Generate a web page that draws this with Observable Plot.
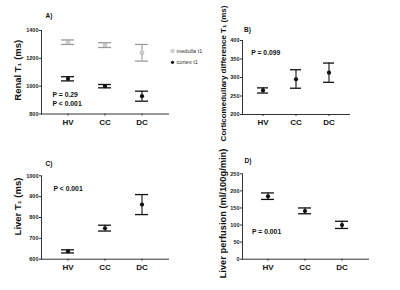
<!DOCTYPE html>
<html>
<head>
<meta charset="utf-8">
<script src="https://cdn.jsdelivr.net/npm/d3@7"></script>
<script src="https://cdn.jsdelivr.net/npm/@observablehq/plot@0.6"></script>
<style>
  html, body { margin: 0; padding: 0; background: #fff; }
  #fig { position: relative; width: 400px; height: 290px; background: #fff; overflow: hidden; }
  #fig svg { position: absolute; }
</style>
</head>
<body>
<div id="fig"></div>
<script>
// ---- data ----
const groups = ["HV", "CC", "DC"];

const medullaMean = [1316, 1295, 1240];
const medullaLow  = [1300, 1278, 1180];
const medullaHigh = [1332, 1312, 1300];

const cortexMean = [1053, 1000, 928];
const cortexLow  = [1038, 988, 892];
const cortexHigh = [1068, 1012, 964];

const cmdMean = [265, 295, 313];
const cmdLow  = [258, 271, 287];
const cmdHigh = [272, 321, 339];

const liverT1Mean = [637, 748, 862];
const liverT1Low  = [630, 735, 814];
const liverT1High = [645, 763, 910];

const perfMean = [184, 141, 100];
const perfLow  = [175, 133, 90];
const perfHigh = [194, 150, 111];

const ticksA = [800, 1000, 1200, 1400];
const ticksB = [200, 250, 300, 350, 400];
const ticksC = [600, 700, 800, 900, 1000];
const ticksD = [0, 50, 100, 150, 200, 250];

const legendLabels = ["medulla t1", "cortex t1"];

const GREY = "#9b9b9b";
const BLACK = "#111";
const FONT = "'Liberation Sans', Arial, Helvetica, sans-serif";

const fig = document.getElementById("fig");

function makePanel(cfg) {
  const marks = [];
  marks.push(Plot.frame({anchor: "left", stroke: "#333", strokeWidth: 1}));
  marks.push(Plot.frame({anchor: "bottom", stroke: "#333", strokeWidth: 1}));
  marks.push(Plot.axisY({ticks: cfg.ticks, tickFormat: d => String(d), tickSize: 2, tickPadding: 1, fontSize: 5.5, fontWeight: "bold", label: null, fill: "#222", stroke: "#333"}));
  marks.push(Plot.axisX({tickSize: 2, tickPadding: 3, fontSize: 8, fontWeight: "bold", label: null, fill: "#111", stroke: "#333"}));
  for (const s of cfg.series) {
    const rows = groups.map((g, i) => ({g, m: s.mean[i], lo: s.low[i], hi: s.high[i]}));
    marks.push(Plot.ruleX(rows, {x: "g", y1: "lo", y2: "hi", stroke: s.color, strokeWidth: 1.1}));
    marks.push(Plot.tickY(rows, {x: "g", y: "lo", stroke: s.color, strokeWidth: 1.3}));
    marks.push(Plot.tickY(rows, {x: "g", y: "hi", stroke: s.color, strokeWidth: 1.3}));
    if (s.marker === "circle-x") {
      marks.push(Plot.dot(rows, {x: "g", y: "m", r: 1.9, stroke: s.color, fill: "white", strokeWidth: 0.7}));
      marks.push(Plot.dot(rows, {x: "g", y: "m", r: 1.0, symbol: "times", stroke: s.color, strokeWidth: 0.6}));
    } else {
      marks.push(Plot.dot(rows, {x: "g", y: "m", r: 2.1, fill: s.color}));
    }
  }
  // panel letter
  marks.push(Plot.text([cfg.letter], {frameAnchor: "top-left", dx: cfg.letterDx, dy: cfg.letterDy, textAnchor: "start", lineAnchor: "middle", fontSize: 6.5, fontWeight: "bold", fill: "#111"}));
  // y title
  marks.push(Plot.text([cfg.ylabel], {frameAnchor: "left", dx: cfg.ylabelDx, dy: cfg.ylabelDy, rotate: -90, textAnchor: "middle", lineAnchor: "middle", fontSize: cfg.ylabelSize, fontWeight: "bold", fill: "#111"}));
  // p-value annotations
  for (const p of cfg.pvals) {
    marks.push(Plot.text([p.text], {frameAnchor: p.anchor, dx: p.dx, dy: p.dy, textAnchor: "start", lineAnchor: "middle", fontSize: 6.8, fontWeight: "bold", fill: "#111"}));
  }
  if (cfg.extra) marks.push(...cfg.extra);

  const svg = Plot.plot({
    width: 200,
    height: 145,
    marginLeft: cfg.ml, marginRight: cfg.mr, marginTop: cfg.mt, marginBottom: cfg.mb,
    style: {fontFamily: FONT, background: "transparent", overflow: "visible"},
    x: {type: "band", domain: groups, paddingInner: cfg.pi, paddingOuter: cfg.po, align: 0.5},
    y: {domain: cfg.domain},
    marks
  });
  svg.style.left = cfg.left + "px";
  svg.style.top = cfg.top + "px";
  fig.appendChild(svg);
}

// legend for panel A (drawn in panel A's frame coordinates)
const legendMarks = [
  Plot.dot([legendLabels[0]], {frameAnchor: "top-right", dx: 4, dy: 20.5, r: 1.7, stroke: GREY, fill: "white", strokeWidth: 0.6}),
  Plot.dot([legendLabels[0]], {frameAnchor: "top-right", dx: 4, dy: 20.5, r: 0.9, symbol: "times", stroke: GREY, strokeWidth: 0.5}),
  Plot.dot([legendLabels[1]], {frameAnchor: "top-right", dx: 4, dy: 31.8, r: 1.6, fill: BLACK}),
  Plot.text([legendLabels[0]], {frameAnchor: "top-right", dx: 8, dy: 20.5, textAnchor: "start", lineAnchor: "middle", fontSize: 5.6, fill: "#333"}),
  Plot.text([legendLabels[1]], {frameAnchor: "top-right", dx: 8, dy: 31.8, textAnchor: "start", lineAnchor: "middle", fontSize: 5.6, fill: "#333"})
];

makePanel({
  left: 0, top: 0, ml: 41, mr: 32, mt: 30, mb: 31.5,
  pi: 0.653, po: 0.52,
  domain: [800, 1400], ticks: ticksA,
  letter: "A)", letterDx: 4, letterDy: -15,
  ylabel: "Renal T\u2081 (ms)", ylabelDx: -24, ylabelDy: -2, ylabelSize: 9.5,
  series: [
    {mean: medullaMean, low: medullaLow, high: medullaHigh, color: GREY, marker: "circle-x"},
    {mean: cortexMean, low: cortexLow, high: cortexHigh, color: BLACK, marker: "dot"}
  ],
  pvals: [
    {text: "P = 0.29", anchor: "bottom-left", dx: 11, dy: -19.2},
    {text: "P < 0.001", anchor: "bottom-left", dx: 11, dy: -9.8}
  ],
  extra: legendMarks
});

makePanel({
  left: 200, top: 0, ml: 42, mr: 51, mt: 40, mb: 31,
  pi: 0.67, po: 0.44,
  domain: [200, 400], ticks: ticksB,
  letter: "B)", letterDx: 1.5, letterDy: -10.7,
  ylabel: "Corticomedullary difference T\u2081 (ms)", ylabelDx: -19.5, ylabelDy: -4, ylabelSize: 8,
  series: [
    {mean: cmdMean, low: cmdLow, high: cmdHigh, color: BLACK, marker: "dot"}
  ],
  pvals: [
    {text: "P = 0.099", anchor: "top-left", dx: 8.7, dy: 12.7}
  ]
});

makePanel({
  left: 0, top: 145, ml: 41, mr: 32, mt: 30.3, mb: 31.3,
  pi: 0.653, po: 0.52,
  domain: [600, 1000], ticks: ticksC,
  letter: "C)", letterDx: 4, letterDy: -12.3,
  ylabel: "Liver T\u2081 (ms)", ylabelDx: -24, ylabelDy: -11, ylabelSize: 9.5,
  series: [
    {mean: liverT1Mean, low: liverT1Low, high: liverT1High, color: BLACK, marker: "dot"}
  ],
  pvals: [
    {text: "P < 0.001", anchor: "top-left", dx: 12, dy: 13}
  ]
});

makePanel({
  left: 200, top: 145, ml: 42, mr: 32, mt: 28.3, mb: 31.3,
  pi: 0.648, po: 0.49,
  domain: [0, 250], ticks: ticksD,
  letter: "D)", letterDx: 2, letterDy: -13.3,
  ylabel: "Liver perfusion (ml/100g/min)", ylabelDx: -19, ylabelDy: -3, ylabelSize: 9.3,
  series: [
    {mean: perfMean, low: perfLow, high: perfHigh, color: BLACK, marker: "dot"}
  ],
  pvals: [
    {text: "P = 0.001", anchor: "bottom-left", dx: 9.5, dy: -27.7}
  ]
});
</script>
</body>
</html>
